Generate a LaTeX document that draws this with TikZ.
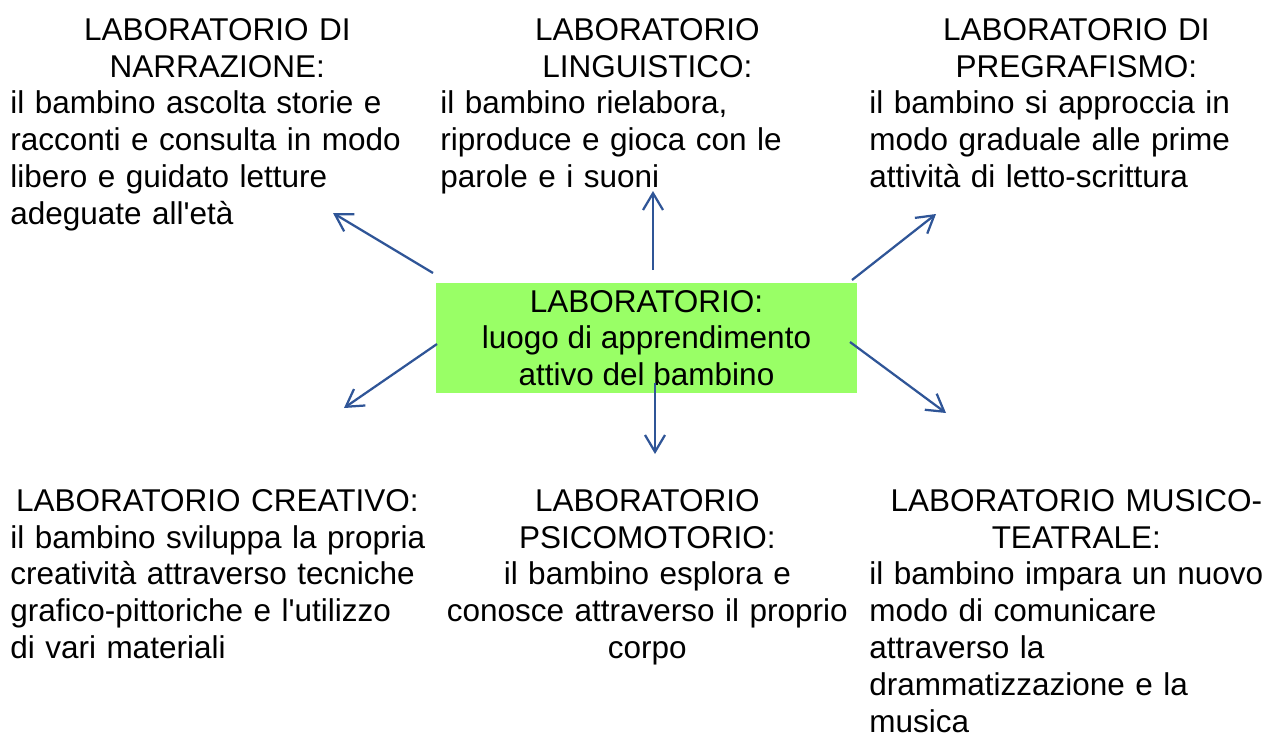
\documentclass[tikz,border=0pt]{standalone}
\usepackage{fontspec}
\setmainfont{Liberation Sans}
\usetikzlibrary{arrows.meta, positioning}
\definecolor{hubgreen}{RGB}{153,255,102}
\definecolor{arrowblue}{RGB}{47,85,151}
\newcommand{\labtitle}{\leftskip=0pt plus 1fil\rightskip=0.25cm plus 1fil\parfillskip=0pt\relax}

\begin{document}
\begin{tikzpicture}[
    x=0.025cm, y=-0.025cm,
    every node/.style={font=\fontsize{22.4}{26.2}\selectfont},
    hub/.style={rectangle, fill=hubgreen, minimum width=10.525cm, minimum height=2.75cm, inner sep=0pt, align=center},
    labtext/.style={text width=10.6cm, inner sep=0pt, anchor=north west},
    arrow/.style={draw=arrowblue, line width=1.6pt, -{Straight Barb[length=0.42cm, width=0.5cm, line width=1.6pt]}}
]
    \useasboundingbox (0,0) rectangle (1266,733);

    % Centre
    \node [hub] (hub) at (646.5, 338) {LABORATORIO:\\luogo di apprendimento\\attivo del bambino};

    % Top row
    \node [labtext] (narr) at (10, 18) {\labtitle LABORATORIO DI\\NARRAZIONE:\par
        \raggedright il bambino ascolta storie e\\racconti e consulta in modo\\libero e guidato letture\\adeguate all\textquotesingle età\par};
    \node [labtext] (ling) at (440, 18) {\labtitle LABORATORIO\\LINGUISTICO:\par
        \raggedright il bambino rielabora,\\riproduce e gioca con le\\parole e i suoni\par};
    \node [labtext] (pregr) at (869, 18) {\labtitle LABORATORIO DI\\PREGRAFISMO:\par
        \raggedright il bambino si approccia in\\modo graduale alle prime\\attività di letto-scrittura\par};

    % Bottom row
    \node [labtext] (creat) at (10, 489) {\labtitle LABORATORIO CREATIVO:\par
        \raggedright il bambino sviluppa la propria\\creatività attraverso tecniche\\grafico-pittoriche e l\textquotesingle utilizzo\\di vari materiali\par};
    \node [labtext] (psico) at (435, 489) {\centering LABORATORIO\\PSICOMOTORIO:\\il bambino esplora e\\conosce attraverso il proprio\\corpo\par};
    \node [labtext] (music) at (869, 489) {\labtitle LABORATORIO MUSICO-\\TEATRALE:\par
        \raggedright il bambino impara un nuovo\\modo di comunicare\\attraverso la\\drammatizzazione e la\\musica\par};

    % Arrow ends
    \coordinate (s1) at (433, 273);  \coordinate (e1) at (333, 213);
    \coordinate (s2) at (653, 270);  \coordinate (e2) at (653, 191);
    \coordinate (s3) at (852, 280);  \coordinate (e3) at (936, 214);
    \coordinate (s4) at (437, 344);  \coordinate (e4) at (344, 408);
    \coordinate (s5) at (655, 383);  \coordinate (e5) at (655, 454);
    \coordinate (s6) at (850, 342);  \coordinate (e6) at (946, 413);

    % Arrows
    \draw [arrow] (s1) -- (e1);
    \draw [arrow] (s2) -- (e2);
    \draw [arrow] (s3) -- (e3);
    \draw [arrow] (s4) -- (e4);
    \draw [arrow] (s5) -- (e5);
    \draw [arrow] (s6) -- (e6);
\end{tikzpicture}
\end{document}
